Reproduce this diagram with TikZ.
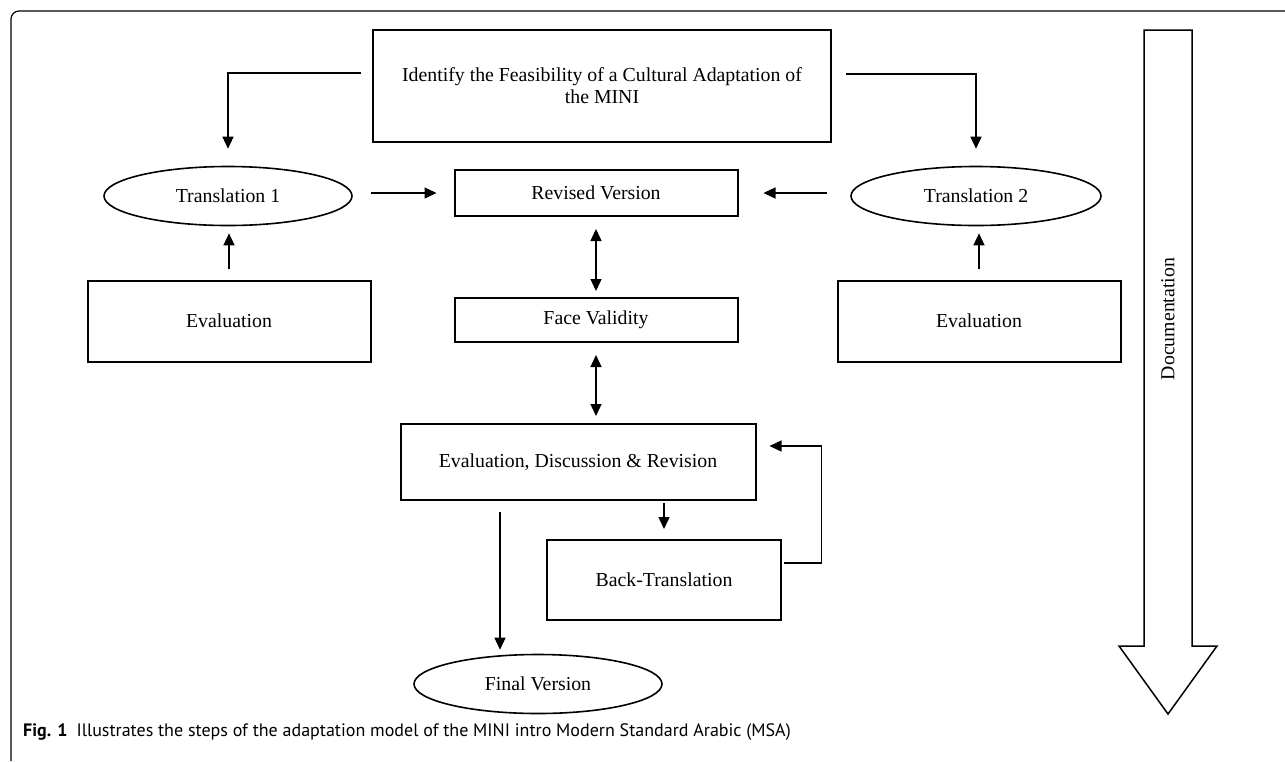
\documentclass[tikz,border=0pt]{standalone}
\usepackage{fontspec}
\setmainfont{Liberation Serif}
\newfontfamily\capfont{PT Sans}
\usetikzlibrary{arrows.meta,shapes.geometric,positioning}

\begin{document}
\begin{tikzpicture}[x=1pt, y=-1pt, node distance=127pt,
	every node/.style={font=\fontsize{19.8}{22}\selectfont},
	box/.style={draw, line width=2pt, inner sep=0pt},
	oval/.style={draw, ellipse, line width=1.6pt, inner sep=0pt, minimum width=248pt, minimum height=59pt},
	arr/.style={-{Triangle[length=12pt,width=11pt]}, line width=1.4pt},
	dbl/.style={{Triangle[length=12pt,width=11pt]}-{Triangle[length=12pt,width=11pt]}, line width=1.4pt}]
	\useasboundingbox (0,0) rectangle (1285,761);
	\draw[line width=1.2pt, rounded corners=8pt] (11,761) -- (11,11) -- (1285,11);
	% boxes and ovals
	\node (Feas) [box, minimum width=458pt, minimum height=112pt, align=center] at (602,86) {Identify the Feasibility of a Cultural Adaptation of\\the MINI};
	\node (TrOne) [oval] at (228,196) {Translation 1};
	\node (TrTwo) [oval, minimum width=250pt] at (976,196) {Translation 2};
	\node (Rev) [box, minimum width=283pt, minimum height=46pt] at (596,193) {Revised Version};
	\node (Face) [box, minimum width=283pt, minimum height=44pt, below of=Rev] {Face Validity};
	\node (EvOne) [box, minimum width=283pt, minimum height=81pt] at (229,321) {Evaluation};
	\node (EvTwo) [box, minimum width=283pt, minimum height=81pt] at (979,321) {Evaluation};
	\node (EDR) [box, minimum width=355pt, minimum height=76pt] at (578,462) {Evaluation, Discussion \& Revision};
	\node (Back) [box, minimum width=234pt, minimum height=80pt] at (664,580) {Back-Translation};
	\node (Final) [oval] at (538,684) {Final Version};
	% connectors
	\draw[arr, shorten >=17pt] ([xshift=-11pt,yshift=13pt]Feas.west) -| (TrOne.north);
	\draw[arr, shorten >=17pt] ([xshift=14pt,yshift=12pt]Feas.east) -| (TrTwo.north);
	\draw[arr, shorten <=18pt, shorten >=17pt] (Rev.west -| TrOne.east) -- (Rev.west);
	\draw[arr, shorten <=23pt, shorten >=25pt] (Rev.east -| TrTwo.west) -- (Rev.east);
	\draw[arr, shorten <=11pt, shorten >=7pt] (EvOne.north) -- (EvOne.north |- TrOne.south);
	\draw[arr, shorten <=11pt, shorten >=7pt] (EvTwo.north) -- (EvTwo.north |- TrTwo.south);
	\draw[dbl, shorten <=12pt, shorten >=6pt] (Rev.south) -- (Face.north);
	\draw[dbl, shorten <=12pt, shorten >=7pt] (Face.south) -- (Face.south |- EDR.north);
	\draw[arr, shorten <=2pt, shorten >=10pt] (EDR.south -| Back.north) -- (Back.north);
	\draw[arr] ([xshift=2pt,yshift=17pt]Back.east) -| ([xshift=65pt,yshift=16pt]EDR.east) -- ([xshift=13pt,yshift=16pt]EDR.east);
	\draw[arr, shorten <=11pt, shorten >=4pt] ([xshift=-78pt]EDR.south) -- ([xshift=-78pt]EDR.south |- Final.north);
	% documentation arrow
	\draw[line width=1.5pt] (1144,30) -- (1192,30) -- (1192,646) -- (1217,646) -- (1168,714) -- (1119,646) -- (1144,646) -- cycle;
	\node (Docu) [rotate=90] at (1168,319) {Documentation};
	% caption
	\node (Cap) [anchor=base west, inner sep=0pt, font=\capfont\fontsize{18}{21}\selectfont] at (23,736) {\textbf{Fig. 1}\enspace Illustrates the steps of the adaptation model of the MINI intro Modern Standard Arabic (MSA)};
\end{tikzpicture}
\end{document}
